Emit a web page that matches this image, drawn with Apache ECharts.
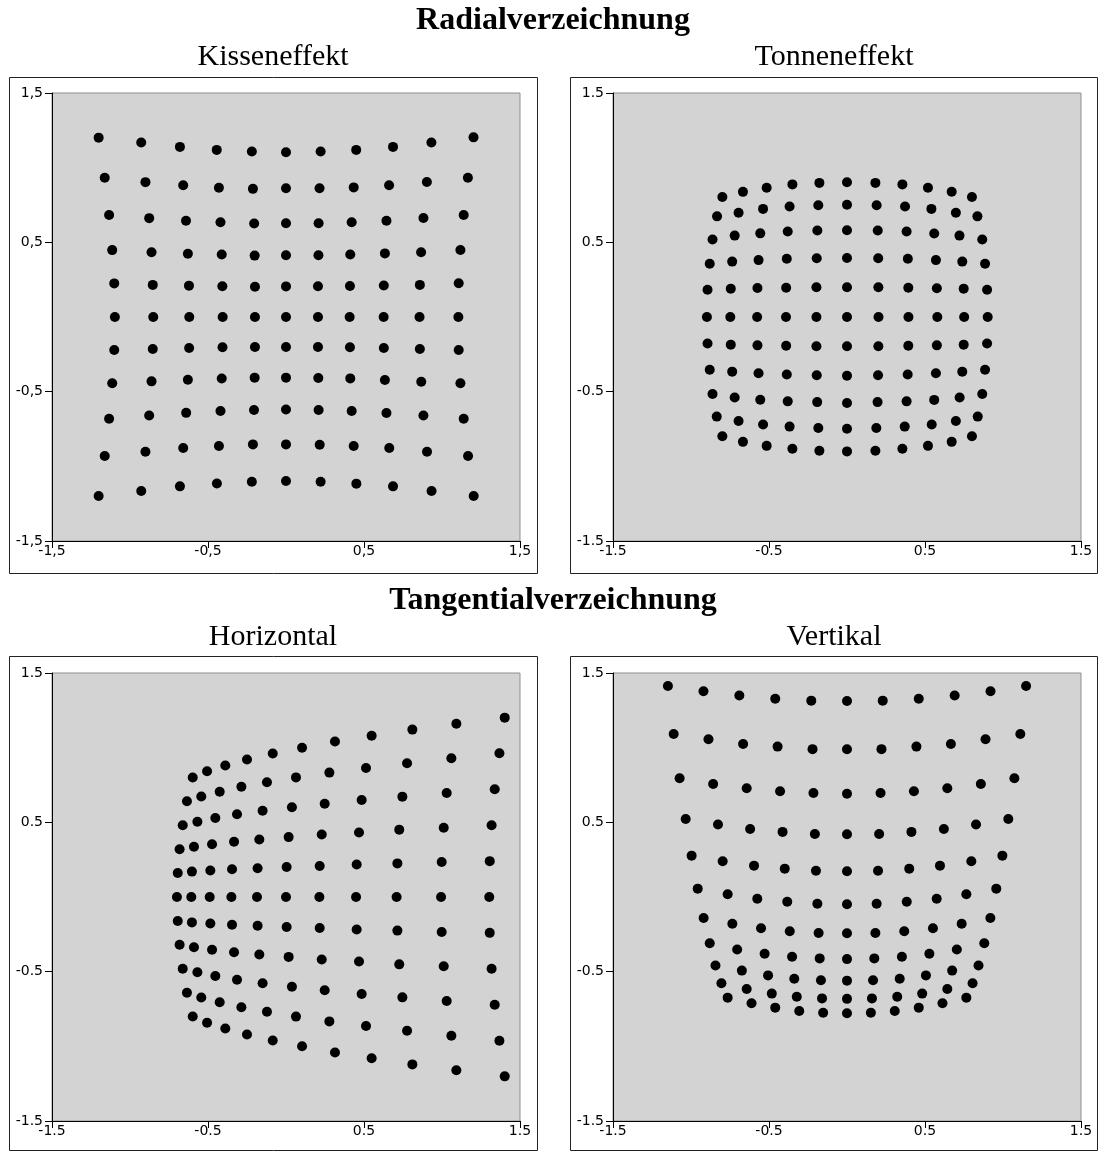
<!DOCTYPE html>
<html>
<head>
<meta charset="utf-8">
<script src="https://cdn.jsdelivr.net/npm/echarts@6/dist/echarts.min.js"></script>
<style>
html,body{margin:0;padding:0;background:#fff;}
#chart{width:1099px;height:1151px;}
</style>
</head>
<body>
<div id="chart"></div>
<script>
// ---- Tick positions and labels ----
const tickValues = [-1.5, -0.5, 0.5, 1.5];
const tickLabelsComma = ['-1,5', '-0,5', '0,5', '1,5'];
const tickLabelsDot = ['-1.5', '-0.5', '0.5', '1.5'];

// ---- Titles ----
const sectionTitles = ['Radialverzeichnung', 'Tangentialverzeichnung'];
const panelTitles = ['Kisseneffekt', 'Tonneneffekt', 'Horizontal', 'Vertikal'];

// ---- Kisseneffekt (rows top -> bottom) ----
const kissenX = [
  [-1.201,-0.928,-0.680,-0.444,-0.219,0,0.222,0.450,0.686,0.932,1.202],
  [-1.162,-0.901,-0.659,-0.430,-0.212,0,0.215,0.434,0.661,0.903,1.166],
  [-1.134,-0.877,-0.641,-0.420,-0.204,0,0.209,0.421,0.644,0.881,1.139],
  [-1.114,-0.862,-0.629,-0.412,-0.201,0,0.208,0.412,0.634,0.866,1.118],
  [-1.101,-0.854,-0.622,-0.408,-0.199,0,0.205,0.410,0.627,0.858,1.107],
  [-1.097,-0.851,-0.620,-0.406,-0.199,0,0.205,0.408,0.626,0.856,1.105],
  [-1.101,-0.854,-0.621,-0.407,-0.199,0,0.205,0.410,0.627,0.858,1.107],
  [-1.114,-0.862,-0.629,-0.412,-0.201,0,0.207,0.412,0.634,0.867,1.118],
  [-1.134,-0.877,-0.640,-0.420,-0.205,0,0.209,0.421,0.644,0.881,1.139],
  [-1.162,-0.901,-0.659,-0.430,-0.212,0,0.216,0.434,0.662,0.904,1.167],
  [-1.201,-0.928,-0.680,-0.443,-0.219,0,0.222,0.451,0.686,0.933,1.203]
];
const kissenY = [
  [1.201,1.168,1.139,1.119,1.108,1.103,1.108,1.119,1.139,1.168,1.203],
  [0.933,0.903,0.882,0.866,0.858,0.862,0.862,0.868,0.882,0.904,0.933],
  [0.683,0.662,0.645,0.634,0.626,0.628,0.628,0.634,0.645,0.663,0.683],
  [0.448,0.433,0.424,0.418,0.411,0.413,0.413,0.418,0.426,0.433,0.449],
  [0.225,0.215,0.210,0.206,0.203,0.205,0.206,0.208,0.211,0.215,0.226],
  [0,0,0,0,0,0,0,0,0,0,0],
  [-0.221,-0.214,-0.207,-0.203,-0.201,-0.201,-0.201,-0.203,-0.207,-0.214,-0.221],
  [-0.444,-0.431,-0.420,-0.412,-0.406,-0.406,-0.408,-0.411,-0.422,-0.433,-0.444],
  [-0.681,-0.660,-0.642,-0.629,-0.623,-0.619,-0.623,-0.629,-0.643,-0.659,-0.681],
  [-0.931,-0.902,-0.877,-0.864,-0.853,-0.853,-0.855,-0.864,-0.877,-0.902,-0.931],
  [-1.199,-1.165,-1.134,-1.115,-1.103,-1.098,-1.103,-1.116,-1.134,-1.165,-1.199]
];

// ---- Tonneneffekt (rows top -> bottom) ----
const tonnenX = [
  [-0.799,-0.667,-0.515,-0.350,-0.177,0,0.182,0.355,0.519,0.671,0.801],
  [-0.833,-0.695,-0.538,-0.368,-0.184,0,0.190,0.372,0.541,0.698,0.836],
  [-0.862,-0.720,-0.556,-0.380,-0.190,0,0.197,0.382,0.559,0.721,0.867],
  [-0.880,-0.736,-0.567,-0.386,-0.194,0,0.200,0.390,0.570,0.739,0.885],
  [-0.894,-0.745,-0.574,-0.390,-0.196,0,0.201,0.393,0.576,0.748,0.898],
  [-0.898,-0.748,-0.576,-0.391,-0.196,0,0.202,0.394,0.579,0.751,0.902],
  [-0.894,-0.745,-0.574,-0.390,-0.196,0,0.201,0.393,0.576,0.748,0.898],
  [-0.880,-0.736,-0.567,-0.386,-0.194,0,0.199,0.389,0.570,0.739,0.885],
  [-0.862,-0.720,-0.556,-0.380,-0.191,0,0.196,0.382,0.559,0.722,0.867],
  [-0.835,-0.695,-0.538,-0.368,-0.184,0,0.188,0.370,0.543,0.698,0.838],
  [-0.799,-0.667,-0.515,-0.350,-0.177,0,0.182,0.355,0.519,0.671,0.801]
];
const tonnenY = [
  [0.804,0.838,0.866,0.888,0.898,0.902,0.898,0.888,0.866,0.839,0.804],
  [0.674,0.698,0.724,0.740,0.748,0.752,0.748,0.740,0.724,0.698,0.674],
  [0.519,0.545,0.560,0.572,0.579,0.581,0.579,0.572,0.559,0.545,0.519],
  [0.357,0.371,0.381,0.390,0.393,0.395,0.393,0.390,0.381,0.371,0.357],
  [0.183,0.190,0.194,0.196,0.199,0.199,0.199,0.196,0.193,0.190,0.183],
  [0,0,0,0,0,0,0,0,0,0,0],
  [-0.178,-0.185,-0.190,-0.193,-0.196,-0.196,-0.196,-0.193,-0.190,-0.185,-0.178],
  [-0.353,-0.366,-0.377,-0.385,-0.390,-0.393,-0.390,-0.385,-0.377,-0.366,-0.353],
  [-0.516,-0.539,-0.554,-0.565,-0.570,-0.576,-0.570,-0.565,-0.555,-0.539,-0.516],
  [-0.667,-0.696,-0.720,-0.734,-0.743,-0.748,-0.743,-0.734,-0.720,-0.696,-0.667],
  [-0.799,-0.836,-0.863,-0.882,-0.896,-0.900,-0.896,-0.882,-0.863,-0.836,-0.799]
];

// ---- Horizontal (columns left -> right, rows top -> bottom) ----
const horizX = [
  [-0.598,-0.635,-0.662,-0.682,-0.694,-0.699,-0.694,-0.682,-0.662,-0.635,-0.598],
  [-0.506,-0.543,-0.568,-0.590,-0.603,-0.607,-0.603,-0.590,-0.568,-0.543,-0.506],
  [-0.389,-0.425,-0.453,-0.474,-0.485,-0.489,-0.485,-0.474,-0.453,-0.425,-0.389],
  [-0.250,-0.286,-0.314,-0.333,-0.346,-0.350,-0.346,-0.333,-0.314,-0.286,-0.250],
  [-0.085,-0.122,-0.150,-0.171,-0.182,-0.186,-0.182,-0.171,-0.150,-0.122,-0.085],
  [0.103,0.064,0.038,0.017,0.004,0,0.004,0.017,0.038,0.064,0.103],
  [0.314,0.278,0.248,0.229,0.216,0.214,0.216,0.229,0.248,0.278,0.314],
  [0.549,0.513,0.485,0.468,0.453,0.449,0.453,0.468,0.485,0.513,0.549],
  [0.810,0.776,0.746,0.726,0.714,0.709,0.714,0.726,0.746,0.776,0.810],
  [1.092,1.060,1.030,1.011,0.998,0.994,0.998,1.011,1.030,1.060,1.092],
  [1.402,1.368,1.338,1.318,1.306,1.303,1.306,1.318,1.338,1.368,1.402]
];
const horizY = [
  [0.800,0.641,0.481,0.320,0.161,0,-0.161,-0.320,-0.481,-0.641,-0.800],
  [0.842,0.673,0.504,0.337,0.170,0,-0.170,-0.337,-0.504,-0.673,-0.842],
  [0.881,0.705,0.529,0.353,0.178,0,-0.178,-0.353,-0.529,-0.705,-0.881],
  [0.921,0.738,0.554,0.370,0.186,0,-0.186,-0.370,-0.554,-0.738,-0.921],
  [0.961,0.769,0.577,0.385,0.193,0,-0.193,-0.385,-0.577,-0.769,-0.961],
  [1.000,0.801,0.601,0.401,0.201,0,-0.201,-0.401,-0.601,-0.801,-1.000],
  [1.041,0.833,0.625,0.418,0.208,0,-0.208,-0.418,-0.625,-0.833,-1.041],
  [1.080,0.864,0.649,0.432,0.218,0,-0.218,-0.432,-0.649,-0.864,-1.080],
  [1.121,0.896,0.672,0.451,0.225,0,-0.225,-0.451,-0.672,-0.896,-1.121],
  [1.160,0.929,0.697,0.464,0.234,0,-0.234,-0.464,-0.697,-0.929,-1.160],
  [1.201,0.963,0.721,0.480,0.240,0,-0.240,-0.480,-0.721,-0.963,-1.201]
];

// ---- Vertikal (rows top -> bottom) ----
const vertX = [
  [-1.148,-0.920,-0.690,-0.460,-0.229,0,0.229,0.460,0.690,0.920,1.148],
  [-1.111,-0.888,-0.666,-0.445,-0.221,0,0.221,0.445,0.666,0.888,1.111],
  [-1.073,-0.858,-0.643,-0.429,-0.215,0,0.215,0.429,0.643,0.858,1.073],
  [-1.034,-0.827,-0.621,-0.413,-0.206,0,0.206,0.413,0.621,0.827,1.034],
  [-0.996,-0.797,-0.596,-0.399,-0.199,0,0.199,0.399,0.596,0.797,0.996],
  [-0.957,-0.765,-0.575,-0.383,-0.190,0,0.190,0.383,0.575,0.765,0.957],
  [-0.919,-0.735,-0.551,-0.367,-0.182,0,0.182,0.367,0.551,0.735,0.919],
  [-0.880,-0.704,-0.528,-0.352,-0.175,0,0.175,0.352,0.528,0.704,0.880],
  [-0.843,-0.674,-0.506,-0.338,-0.167,0,0.167,0.338,0.506,0.674,0.843],
  [-0.805,-0.643,-0.482,-0.322,-0.160,0,0.160,0.322,0.482,0.643,0.805],
  [-0.765,-0.612,-0.460,-0.306,-0.153,0,0.153,0.306,0.460,0.612,0.765]
];
const vertY = [
  [1.413,1.378,1.349,1.328,1.315,1.313,1.315,1.328,1.349,1.378,1.413],
  [1.092,1.056,1.025,1.007,0.990,0.989,0.990,1.007,1.025,1.056,1.092],
  [0.795,0.757,0.728,0.708,0.697,0.692,0.697,0.708,0.728,0.757,0.795],
  [0.522,0.485,0.455,0.436,0.422,0.420,0.422,0.436,0.455,0.485,0.522],
  [0.277,0.239,0.210,0.190,0.176,0.172,0.176,0.190,0.210,0.239,0.277],
  [0.056,0.018,-0.012,-0.032,-0.045,-0.049,-0.045,-0.032,-0.012,0.018,0.056],
  [-0.141,-0.179,-0.209,-0.229,-0.241,-0.243,-0.241,-0.229,-0.209,-0.179,-0.141],
  [-0.310,-0.351,-0.380,-0.400,-0.411,-0.416,-0.411,-0.400,-0.380,-0.351,-0.310],
  [-0.459,-0.493,-0.525,-0.547,-0.558,-0.560,-0.558,-0.547,-0.525,-0.493,-0.459],
  [-0.578,-0.616,-0.647,-0.668,-0.679,-0.682,-0.679,-0.668,-0.647,-0.616,-0.578],
  [-0.674,-0.712,-0.741,-0.763,-0.775,-0.779,-0.775,-0.763,-0.741,-0.712,-0.674]
];

function toPoints(xs, ys) {
  const pts = [];
  for (let i = 0; i < xs.length; i++) {
    for (let j = 0; j < xs[i].length; j++) pts.push([xs[i][j], ys[i][j]]);
  }
  return pts;
}

const panels = [
  { data: toPoints(kissenX, kissenY), labels: tickLabelsComma, left: 52, top: 93 },
  { data: toPoints(tonnenX, tonnenY), labels: tickLabelsDot, left: 613, top: 93 },
  { data: toPoints(horizX, horizY), labels: tickLabelsDot, left: 52, top: 673 },
  { data: toPoints(vertX, vertY), labels: tickLabelsDot, left: 613, top: 673 }
];

function labelFor(labels) {
  return function (v) {
    let best = 0, d = Infinity;
    tickValues.forEach((t, i) => { const dd = Math.abs(t - v); if (dd < d) { d = dd; best = i; } });
    return labels[best];
  };
}

const labelFont = { fontFamily: 'DejaVu Sans', fontSize: 14, color: '#000' };

const grids = [], xAxes = [], yAxes = [], series = [];
panels.forEach((p, i) => {
  grids.push({
    left: p.left, top: p.top, width: 468, height: 448,
    show: true, backgroundColor: '#d3d3d3', borderColor: '#8f8f8f', borderWidth: 1,
    containLabel: false
  });
  const common = {
    gridIndex: i, type: 'value', min: -1.5, max: 1.5,
    axisLine: { show: true, onZero: false, lineStyle: { color: '#000', width: 1 } },
    axisTick: { show: true, customValues: tickValues, length: 7, inside: false, lineStyle: { color: '#000' } },
    splitLine: { show: false }
  };
  xAxes.push(Object.assign({}, common, {
    position: 'bottom',
    axisLabel: Object.assign({ customValues: tickValues, margin: 3, formatter: labelFor(p.labels) }, labelFont)
  }));
  yAxes.push(Object.assign({}, common, {
    position: 'left',
    axisLabel: Object.assign({ customValues: tickValues, margin: 9, formatter: labelFor(p.labels) }, labelFont)
  }));
  series.push({
    type: 'scatter', xAxisIndex: i, yAxisIndex: i, data: p.data,
    symbol: 'circle', symbolSize: 10, itemStyle: { color: '#000', opacity: 1 }, silent: true
  });
});

function txt(text, x, y, font) {
  return { type: 'text', x: x, y: y, silent: true,
    style: { text: text, font: font, fill: '#000', align: 'center', verticalAlign: 'middle', textAlign: 'center', textVerticalAlign: 'middle' } };
}
function box(x, y, w, h) {
  return { type: 'rect', silent: true, shape: { x: x, y: y, width: w, height: h },
    style: { fill: 'none', stroke: '#222', lineWidth: 1 } };
}

const boldFont = 'bold 32px "Liberation Serif"';
const regFont = '30px "Liberation Serif"';

const graphics = [
  box(9.5, 77.5, 528, 496),
  box(570.5, 77.5, 527, 496),
  box(9.5, 656.5, 528, 494),
  box(570.5, 656.5, 527, 494),
  txt(sectionTitles[0], 553, 21, boldFont),
  txt(panelTitles[0], 273, 57, regFont),
  txt(panelTitles[1], 834, 57, regFont),
  txt(sectionTitles[1], 553, 601, boldFont),
  txt(panelTitles[2], 273, 637, regFont),
  txt(panelTitles[3], 834, 637, regFont)
];

const chart = echarts.init(document.getElementById('chart'), null, { renderer: 'canvas' });
chart.setOption({
  animation: false,
  backgroundColor: '#fff',
  grid: grids, xAxis: xAxes, yAxis: yAxes, series: series,
  graphic: { elements: graphics }
});
</script>
</body>
</html>
